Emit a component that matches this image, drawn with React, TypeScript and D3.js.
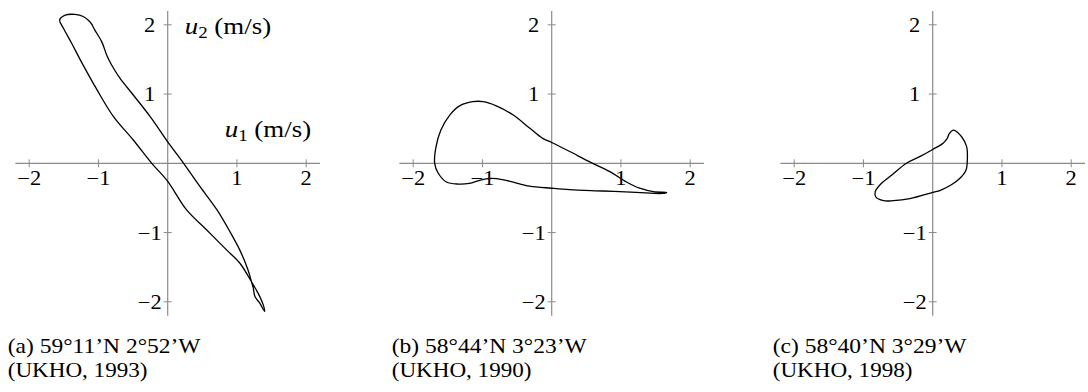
import React from "react";
import * as d3 from "d3";

// Tidal ellipse traces (u1, u2) in m/s, one closed loop per station
const loopA: [number, number][] = [
  [-1.56, 2.07], [-1.48, 2.14], [-1.34, 2.15], [-1.22, 2.12], [-1.12, 2.04],
  [-1.05, 1.92], [-0.95, 1.75], [-0.88, 1.56], [-0.81, 1.42], [-0.69, 1.23],
  [-0.5, 0.99], [-0.25, 0.67], [0, 0.31], [0.23, 0], [0.47, -0.34],
  [0.71, -0.67], [0.9, -0.99], [1.04, -1.25], [1.16, -1.54], [1.21, -1.71],
  [1.235, -1.8], [1.26, -1.925], [1.33, -2.02], [1.4, -2.14], [1.38, -2.045],
  [1.33, -1.925], [1.28, -1.83], [1.21, -1.71], [1.04, -1.44], [0.85, -1.25],
  [0.56, -0.96], [0.27, -0.67], [0, -0.26], [-0.23, 0], [-0.5, 0.34],
  [-0.78, 0.67], [-1.02, 1.06], [-1.26, 1.49], [-1.385, 1.73], [-1.505, 1.95],
];

const loopB: [number, number][] = [
  [-1.69, 0], [-1.67, 0.24], [-1.6, 0.48], [-1.47, 0.7], [-1.33, 0.83],
  [-1.14, 0.89], [-0.99, 0.89], [-0.8, 0.83], [-0.56, 0.7], [-0.32, 0.51],
  [-0.13, 0.36], [0, 0.3], [0.26, 0.17], [0.55, 0.02], [0.84, -0.12],
  [1.08, -0.27], [1.27, -0.36], [1.47, -0.41], [1.66, -0.42], [1.6, -0.435],
  [1.22, -0.42], [0.74, -0.4], [0.26, -0.38], [0, -0.36], [-0.32, -0.33],
  [-0.6, -0.26], [-0.8, -0.22], [-0.92, -0.22], [-1.04, -0.245], [-1.19, -0.29],
  [-1.35, -0.3], [-1.52, -0.27], [-1.64, -0.14],
];

const loopC: [number, number][] = [
  [0.3, 0.48], [0.42, 0.38], [0.49, 0.24], [0.5, 0.05], [0.48, -0.1],
  [0.39, -0.22], [0.27, -0.31], [0.11, -0.39], [0, -0.42], [-0.33, -0.51],
  [-0.57, -0.54], [-0.71, -0.54], [-0.82, -0.49], [-0.83, -0.41], [-0.76, -0.31],
  [-0.59, -0.17], [-0.38, 0], [-0.18, 0.1], [0, 0.2], [0.15, 0.29],
  [0.21, 0.36], [0.24, 0.43],
];

const tickValues = [-2, -1, 1, 2];
const axisDomain: [number, number] = [-2.2, 2.2];

const captionsLine1 = ["(a) 59°11’N 2°52’W", "(b) 58°44’N 3°23’W", "(c) 58°40’N 3°29’W"];
const captionsLine2 = ["(UKHO, 1993)", "(UKHO, 1990)", "(UKHO, 1998)"];

const loops = [loopA, loopB, loopC];

const UNIT = 69.25;
const originsX = [167.7, 551.7, 932.7];
const originY = 163.3;
const AXIS = "#8a8a8a";
const FONT = "'Liberation Serif', 'Times New Roman', serif";

function fmt(v: number) {
  return v < 0 ? "−" + Math.abs(v) : String(v);
}

function Label({
  x,
  y,
  size,
  sx = 1,
  anchor = "start",
  children,
}: {
  x: number;
  y: number;
  size: number;
  sx?: number;
  anchor?: "start" | "middle" | "end";
  children: React.ReactNode;
}) {
  return (
    <g transform={`translate(${x},${y}) scale(${sx},1)`}>
      <text x={0} y={0} textAnchor={anchor} style={{ fontFamily: FONT, fontSize: size }} fill="#000">
        {children}
      </text>
    </g>
  );
}

function Panel({ idx }: { idx: number }) {
  const ox = originsX[idx];
  const x = d3
    .scaleLinear()
    .domain(axisDomain)
    .range([ox + axisDomain[0] * UNIT, ox + axisDomain[1] * UNIT]);
  const y = d3
    .scaleLinear()
    .domain(axisDomain)
    .range([originY - axisDomain[0] * UNIT, originY - axisDomain[1] * UNIT]);
  const line = d3
    .line<[number, number]>()
    .x((d) => x(d[0]))
    .y((d) => y(d[1]))
    .curve(d3.curveCatmullRomClosed.alpha(0.5));

  return (
    <g>
      {/* axes through the origin */}
      <line x1={x(axisDomain[0])} x2={x(axisDomain[1])} y1={y(0)} y2={y(0)} stroke={AXIS} strokeWidth={1.2} />
      <line x1={x(0)} x2={x(0)} y1={y(axisDomain[0])} y2={y(axisDomain[1])} stroke={AXIS} strokeWidth={1.2} />
      {tickValues.map((t) => (
        <g key={"x" + t}>
          <line x1={x(t)} x2={x(t)} y1={y(0) - 4} y2={y(0) + 4} stroke={AXIS} strokeWidth={1} />
          <Label x={x(t)} y={y(0) + 22} size={20} sx={1.12} anchor="middle">
            {fmt(t)}
          </Label>
        </g>
      ))}
      {tickValues.map((t) => (
        <g key={"y" + t}>
          <line x1={x(0) - 4} x2={x(0) + 4} y1={y(t)} y2={y(t)} stroke={AXIS} strokeWidth={1} />
          <Label x={x(0) - 18} y={y(t) + 7} size={20} sx={1.12} anchor="middle">
            {fmt(t)}
          </Label>
        </g>
      ))}
      <path d={line(loops[idx]) || ""} fill="none" stroke="#000" strokeWidth={1.3} strokeLinejoin="round" />
      {idx === 0 && (
        <>
          <Label x={x(0) + 17} y={y(2) + 9} size={24} sx={1.12}>
            <tspan fontStyle="italic">u</tspan>
            <tspan fontSize={17} dy={4}>2</tspan>
            <tspan dy={-4}> (m/s)</tspan>
          </Label>
          <Label x={x(0) + 57} y={y(0) - 26} size={24} sx={1.12}>
            <tspan fontStyle="italic">u</tspan>
            <tspan fontSize={17} dy={4}>1</tspan>
            <tspan dy={-4}> (m/s)</tspan>
          </Label>
        </>
      )}
      <Label x={ox - 160} y={353} size={21} sx={1.12}>
        {captionsLine1[idx]}
      </Label>
      <Label x={ox - 160} y={377} size={21} sx={1.1}>
        {captionsLine2[idx]}
      </Label>
    </g>
  );
}

export default function App() {
  return (
    <svg width={1088} height={392} style={{ position: "absolute", left: 0, top: 0, background: "#fff" }}>
      <rect width={1088} height={392} fill="#fff" />
      {[0, 1, 2].map((i) => (
        <Panel key={i} idx={i} />
      ))}
    </svg>
  );
}
